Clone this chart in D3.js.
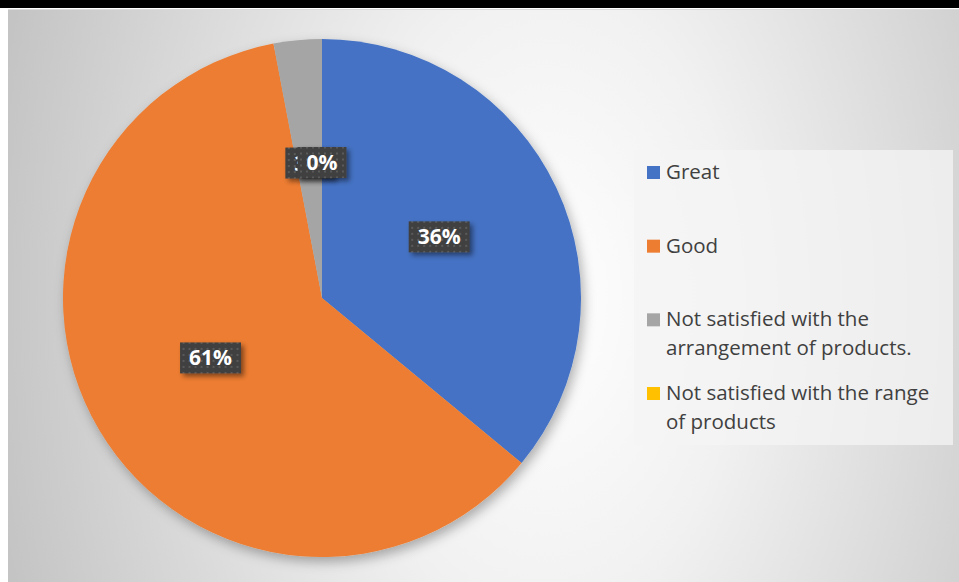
<!DOCTYPE html>
<html>
<head>
<meta charset="utf-8">
<script src="https://cdn.jsdelivr.net/npm/d3@7"></script>
<style>
  html, body { margin: 0; padding: 0; background: #ffffff; }
  svg { display: block; }
</style>
</head>
<body>
<svg id="chart" width="959" height="582"></svg>
<script>
// Survey answers and their shares (percent)
const categories = [
  "Great",
  "Good",
  "Not satisfied with the arrangement of products.",
  "Not satisfied with the range of products"
];
const values = [36, 61, 3, 0];
const colors = ["#4472c4", "#ed7d31", "#a5a5a5", "#ffc000"];
// Legend text, wrapped into lines
const legendLines = [
  ["Great"],
  ["Good"],
  ["Not satisfied with the", "arrangement of products."],
  ["Not satisfied with the range", "of products"]
];

const W = 959, H = 582;
const svg = d3.select("#chart");
const defs = svg.append("defs");

// Chart area background: soft radial gradient, bright near the middle
const bg = defs.append("radialGradient")
  .attr("id", "bgGrad")
  .attr("gradientUnits", "userSpaceOnUse")
  .attr("cx", 545).attr("cy", 300).attr("r", 560)
  .attr("gradientTransform", "translate(545,300) scale(1,1.6) translate(-545,-300)");
bg.append("stop").attr("offset", 0).attr("stop-color", "#ffffff");
bg.append("stop").attr("offset", 0.35).attr("stop-color", "#f1f1f1");
bg.append("stop").attr("offset", 1).attr("stop-color", "#c4c4c4");

// Pie drop shadow
const pieShadow = defs.append("filter").attr("id", "pieShadow")
  .attr("x", "-20%").attr("y", "-20%").attr("width", "140%").attr("height", "140%");
pieShadow.append("feDropShadow")
  .attr("dx", 3).attr("dy", 5).attr("stdDeviation", 6)
  .attr("flood-color", "#000").attr("flood-opacity", 0.3);

// Label box shadow
const boxShadow = defs.append("filter").attr("id", "boxShadow")
  .attr("x", "-30%").attr("y", "-40%").attr("width", "160%").attr("height", "190%");
boxShadow.append("feDropShadow")
  .attr("dx", 3).attr("dy", 3).attr("stdDeviation", 2.5)
  .attr("flood-color", "#000").attr("flood-opacity", 0.45);

// Dotted dark fill for value labels
const dots = defs.append("pattern").attr("id", "dots")
  .attr("patternUnits", "userSpaceOnUse").attr("width", 6).attr("height", 6);
dots.append("rect").attr("width", 6).attr("height", 6).attr("fill", "#404040");
dots.append("rect").attr("x", 2).attr("y", 2).attr("width", 2).attr("height", 2).attr("fill", "#5a5a5a");

// Frame: dark strip on top, chart area below
svg.append("rect").attr("x", 0).attr("y", 0).attr("width", W).attr("height", 8).attr("fill", "#000");
svg.append("rect").attr("x", 8).attr("y", 9).attr("width", W - 8).attr("height", H - 9)
  .attr("fill", "url(#bgGrad)");
svg.append("line").attr("x1", 8).attr("x2", W).attr("y1", 9.5).attr("y2", 9.5)
  .attr("stroke", "#dcdcdc").attr("stroke-width", 1);

// Pie
const cx = 322, cy = 298, R = 259;
const data = categories.map((c, i) => ({ name: c, value: values[i], color: colors[i] }));
const pie = d3.pie().sort(null).value(d => d.value);
const arcs = pie(data);
const arc = d3.arc().innerRadius(0).outerRadius(R);
const labelArc = d3.arc().innerRadius(R / 2).outerRadius(R / 2);

const g = svg.append("g").attr("transform", `translate(${cx},${cy})`);
g.append("g").attr("filter", "url(#pieShadow)")
  .selectAll("path").data(arcs).join("path")
  .attr("d", arc)
  .attr("fill", d => d.data.color);

// Value labels (dark boxes with white bold text)
const labelFont = "'Open Sans', 'Noto Sans', sans-serif";
const lg = g.append("g");
arcs.forEach(d => {
  const [x, y] = labelArc.centroid(d);
  const ly = y - 6;
  const t = lg.append("g").attr("transform", `translate(${x},${ly})`);
  const rect = t.append("rect").attr("fill", "url(#dots)").attr("filter", "url(#boxShadow)");
  const txt = t.append("text")
    .attr("text-anchor", "middle")
    .attr("dy", "0.36em")
    .attr("font-family", labelFont)
    .attr("font-weight", 700)
    .attr("font-size", 21)
    .attr("fill", "#ffffff")
    .text(d.data.value + "%");
  const w = txt.node().getComputedTextLength() + 18;
  const h = 31;
  rect.attr("x", -w / 2).attr("y", -h / 2).attr("width", w).attr("height", h);
});

// Legend
const legendFont = "'Open Sans', 'Noto Sans', sans-serif";
svg.append("rect")
  .attr("x", 634).attr("y", 150).attr("width", 319).attr("height", 295)
  .attr("fill", "#f4f4f4").attr("fill-opacity", 0.75);

const legendY = d3.scalePoint().domain(categories).range([179, 400]);
const lineH = 28.5;
categories.forEach((c, i) => {
  const y0 = legendY(c);
  const item = svg.append("g");
  item.append("rect")
    .attr("x", 647).attr("y", y0 - 13).attr("width", 13).attr("height", 13)
    .attr("fill", colors[i]);
  const t = item.append("text")
    .attr("font-family", legendFont)
    .attr("font-size", 20.5)
    .attr("fill", "#404040");
  legendLines[i].forEach((ln, j) => {
    t.append("tspan").attr("x", 666).attr("y", y0 + j * lineH).text(ln);
  });
});
</script>
</body>
</html>
